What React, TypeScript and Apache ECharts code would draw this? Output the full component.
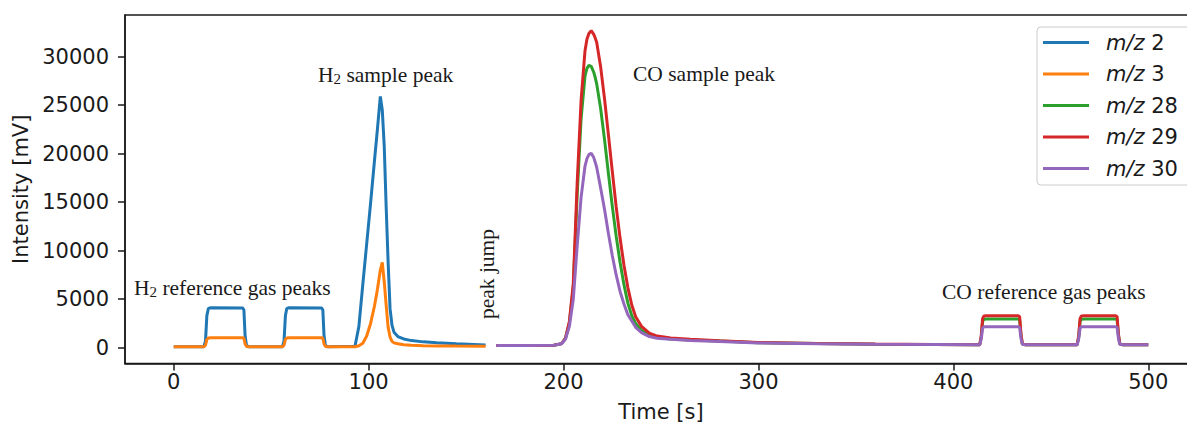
import React, { useEffect, useRef } from 'react';
import * as echarts from 'echarts';

// ---- data ----
const h2Time = [0, 15.5, 16.3, 17.0, 17.8, 19, 35.3, 36.0, 36.6, 37.3, 38.5, 55.8, 56.6, 57.3, 58.0, 59.2, 75.8, 76.5, 77.1, 77.8, 79, 93, 95, 97, 99, 101, 103, 104.5, 106, 107, 108, 109, 110, 111, 112, 113, 115, 118, 122, 128, 135, 145, 160];
const mz2 = [100, 100, 700, 3300, 4050, 4110, 4100, 3900, 1300, 250, 100, 100, 700, 3300, 4050, 4110, 4100, 3900, 1300, 250, 100, 150, 2200, 6500, 10700, 14900, 19300, 22500, 25900, 24500, 20800, 14500, 8800, 4000, 2300, 1600, 1150, 900, 730, 600, 510, 400, 290];
const mz3 = [100, 100, 250, 850, 1010, 1030, 1030, 980, 400, 130, 100, 100, 250, 850, 1010, 1030, 1030, 980, 400, 130, 100, 100, 200, 450, 1200, 2500, 4300, 6000, 8000, 8800, 6800, 4400, 2100, 1100, 650, 500, 400, 300, 240, 200, 180, 165, 150];

const coTime = [165.5, 180, 195, 199, 201, 203, 205, 207, 209, 211, 212, 213, 214.2, 215.5, 216.2, 217, 219, 221, 223, 225, 227, 229, 231, 233, 235, 237, 240, 244, 248, 255, 265, 280, 300, 330, 360, 390, 413.5, 414.3, 415.0, 415.7, 417, 433.3, 434.0, 434.7, 435.4, 437, 463.5, 464.3, 465.0, 465.7, 467, 483.3, 484.0, 484.7, 485.4, 487, 500];
const mz28 = [220, 230, 260, 410, 950, 2600, 6200, 15800, 23600, 28000, 28800, 29100, 29000, 28400, 27900, 27200, 24700, 21500, 18000, 14600, 11500, 8800, 6500, 4600, 3300, 2500, 1800, 1300, 1050, 900, 800, 690, 520, 430, 360, 320, 300, 1100, 2700, 2940, 2960, 2960, 2880, 1250, 380, 305, 300, 1100, 2700, 2940, 2960, 2960, 2880, 1250, 380, 305, 300];
const mz29 = [220, 230, 260, 420, 1000, 2700, 6600, 17000, 25500, 30600, 31800, 32400, 32680, 32300, 31950, 31500, 29000, 25700, 22000, 18200, 14540, 11300, 8500, 6200, 4400, 3200, 2200, 1500, 1200, 1000, 880, 720, 540, 440, 370, 320, 300, 1200, 3000, 3280, 3300, 3300, 3200, 1400, 400, 310, 300, 1200, 3000, 3280, 3300, 3300, 3200, 1400, 400, 310, 300];
const mz30 = [220, 230, 260, 400, 900, 2200, 5000, 10500, 15500, 18700, 19500, 19900, 20040, 19600, 19150, 18600, 16500, 14300, 11800, 9500, 7500, 5800, 4500, 3400, 2750, 2100, 1550, 1150, 980, 860, 740, 630, 480, 400, 350, 320, 300, 900, 2000, 2150, 2165, 2165, 2100, 950, 350, 305, 300, 900, 2000, 2150, 2165, 2165, 2100, 950, 350, 305, 300];

const seriesNames = ['m/z 2', 'm/z 3', 'm/z 28', 'm/z 29', 'm/z 30'];
const seriesColors = ['#1f77b4', '#ff7f0e', '#2ca02c', '#d62728', '#9467bd'];
const xTicks = [0, 100, 200, 300, 400, 500];
const yTicks = [0, 5000, 10000, 15000, 20000, 25000, 30000];

const xLabel = 'Time [s]';
const yLabel = 'Intensity [mV]';

const pair = (t: number[], v: number[]) => t.map((x, i) => [x, v[i]]);

const SANS = 'DejaVu Sans';
const SERIF = 'Liberation Serif';
const INK = '#1a1a1a';
const FS = 21;

export default function App() {
  const ref = useRef<HTMLDivElement>(null);

  useEffect(() => {
    if (!ref.current) return;
    const chart = echarts.init(ref.current, null, { renderer: 'svg' });

    const seriesData = [pair(h2Time, mz2), pair(h2Time, mz3), pair(coTime, mz28), pair(coTime, mz29), pair(coTime, mz30)];

    const annoRich = {
      a: { fontFamily: SERIF, fontSize: 21.5, fill: INK, verticalAlign: 'bottom', lineHeight: 24 },
      b: { fontFamily: SERIF, fontSize: 15, fill: INK, verticalAlign: 'bottom', lineHeight: 24 },
    };

    chart.setOption({
      animation: false,
      backgroundColor: '#ffffff',
      textStyle: { fontFamily: SANS },
      grid: {
        left: 125, top: 15, width: 1072, height: 348.5,
        outerBoundsMode: 'none', containLabel: false,
        show: true, borderColor: INK, borderWidth: 1.5, backgroundColor: 'transparent',
      },
      xAxis: {
        type: 'value',
        min: -25,
        max: 525,
        name: xLabel,
        nameLocation: 'middle',
        nameGap: 38,
        nameTextStyle: { fontFamily: SANS, fontSize: FS, color: INK, lineHeight: 21 },
        axisLine: { show: true, onZero: false, lineStyle: { color: INK, width: 1.5 } },
        axisTick: { show: true, length: 7, lineStyle: { color: INK, width: 1.5 }, customValues: xTicks },
        axisLabel: { fontFamily: SANS, fontSize: FS, color: INK, margin: 8, customValues: xTicks, formatter: (v: number) => String(v) },
        splitLine: { show: false },
      },
      yAxis: {
        type: 'value',
        min: -1630,
        max: 34300,
        name: yLabel,
        nameLocation: 'middle',
        nameGap: 92,
        nameTextStyle: { fontFamily: SANS, fontSize: FS, color: INK },
        axisLine: { show: true, onZero: false, lineStyle: { color: INK, width: 1.5 } },
        axisTick: { show: true, length: 7, lineStyle: { color: INK, width: 1.5 }, customValues: yTicks },
        axisLabel: { fontFamily: SANS, fontSize: FS, color: INK, margin: 16, customValues: yTicks, formatter: (v: number) => String(v) },
        splitLine: { show: false },
      },
      legend: {
        orient: 'vertical',
        left: 1037,
        top: 27,
        icon: 'rect',
        itemWidth: 46,
        itemHeight: 3,
        itemGap: 10.5,
        padding: [5, 24, 6, 6],
        backgroundColor: 'rgba(255,255,255,0.8)',
        borderColor: '#cccccc',
        borderWidth: 1,
        borderRadius: 4,
        data: seriesNames,
        formatter: (name: string) => '{i|m/z} ' + name.split(' ')[1],
        textStyle: {
          fontFamily: SANS,
          fontSize: FS,
          color: INK,
          lineHeight: 21,
          padding: [0, 0, 0, 12],
          rich: { i: { fontFamily: SANS, fontSize: FS, fontStyle: 'italic', color: INK, lineHeight: 21 } },
        },
      },
      series: seriesNames.map((name, i) => ({
        name,
        type: 'line',
        data: seriesData[i],
        showSymbol: false,
        symbol: 'none',
        smooth: false,
        color: seriesColors[i],
        lineStyle: { color: seriesColors[i], width: 3 },
        emphasis: { disabled: true },
      })),
      graphic: [
        { type: 'text', x: 134, y: 287, style: { text: '{a|H}{b|2}{a| reference gas peaks}', rich: annoRich, verticalAlign: 'middle' } },
        { type: 'text', x: 318, y: 74, style: { text: '{a|H}{b|2}{a| sample peak}', rich: annoRich, verticalAlign: 'middle' } },
        { type: 'text', x: 633, y: 74, style: { text: 'CO sample peak', fontFamily: SERIF, fontSize: 21.5, fill: INK, verticalAlign: 'middle' } },
        { type: 'text', x: 942, y: 292, style: { text: 'CO reference gas peaks', fontFamily: SERIF, fontSize: 21.5, fill: INK, verticalAlign: 'middle' } },
        { type: 'text', x: 487, y: 274, rotation: Math.PI / 2, style: { text: 'peak jump', fontFamily: SERIF, fontSize: 21.5, fill: INK, align: 'center', verticalAlign: 'middle' } },
      ],
    });

    return () => chart.dispose();
  }, []);

  return (
    <div style={{ position: 'absolute', left: 0, top: 0, width: 1187, height: 425, overflow: 'hidden', background: '#fff' }}>
      <div ref={ref} style={{ width: 1215, height: 425 }} />
    </div>
  );
}
